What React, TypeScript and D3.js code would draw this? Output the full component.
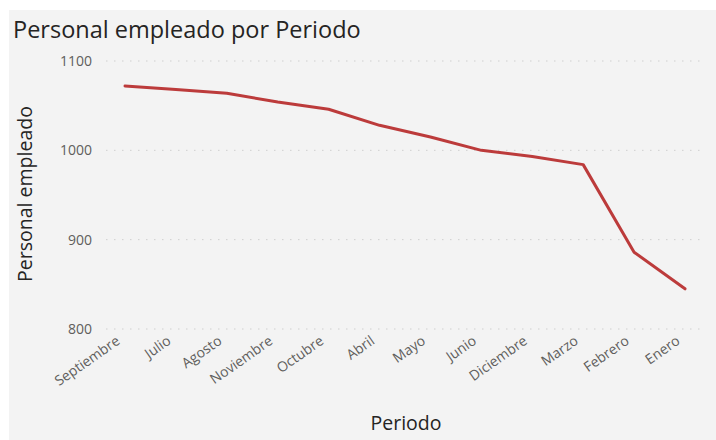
import React, { useEffect, useRef } from "react";
import * as d3 from "d3";

// months in the order shown on the x axis
const periodos = [
  "Septiembre", "Julio", "Agosto", "Noviembre", "Octubre", "Abril",
  "Mayo", "Junio", "Diciembre", "Marzo", "Febrero", "Enero",
];
const personal = [1072, 1068, 1064, 1054, 1046, 1028, 1015, 1000, 993, 984, 886, 845];
const yTicks = [800, 900, 1000, 1100];

const W = 716;
const H = 440;
const FONT = "'Open Sans', 'DejaVu Sans', sans-serif";

export default function App() {
  const ref = useRef<SVGSVGElement>(null);

  useEffect(() => {
    const svg = d3.select(ref.current);
    svg.selectAll("*").remove();

    // grey panel
    svg.append("rect").attr("x", 9).attr("y", 10).attr("width", W - 9).attr("height", H - 10).attr("fill", "#f3f3f3");

    svg
      .append("text")
      .attr("x", 13)
      .attr("y", 38)
      .style("font-family", FONT)
      .style("font-size", "23.5px")
      .attr("fill", "#252423")
      .text("Personal empleado por Periodo");

    // plot area
    const left = 106, right = 705, top = 61, bottom = 329;

    const x = d3.scalePoint<string>().domain(periodos).range([125, 685]);
    const y = d3.scaleLinear().domain([800, 1100]).range([bottom, top]);

    // dotted gridlines
    svg
      .append("g")
      .selectAll("line")
      .data(yTicks)
      .enter()
      .append("line")
      .attr("x1", left)
      .attr("x2", right)
      .attr("y1", (d) => y(d))
      .attr("y2", (d) => y(d))
      .attr("stroke", "#cfcfcf")
      .attr("stroke-width", 1)
      .attr("stroke-dasharray", "1.5,6.5");

    // y tick labels
    svg
      .append("g")
      .selectAll("text")
      .data(yTicks)
      .enter()
      .append("text")
      .attr("x", 92)
      .attr("y", (d) => y(d))
      .attr("dy", "0.35em")
      .attr("text-anchor", "end")
      .style("font-family", FONT)
      .style("font-size", "14px")
      .attr("fill", "#605e5c")
      .text((d) => String(d));

    // x tick labels, rotated
    svg
      .append("g")
      .selectAll("text")
      .data(periodos)
      .enter()
      .append("text")
      .attr("transform", (d) => `translate(${(x(d) as number) - 4},${bottom + 14}) rotate(-35)`)
      .attr("text-anchor", "end")
      .style("font-family", FONT)
      .style("font-size", "14px")
      .attr("fill", "#605e5c")
      .text((d) => d);

    // axis titles
    svg
      .append("text")
      .attr("transform", `translate(32,194) rotate(-90)`)
      .attr("text-anchor", "middle")
      .style("font-family", FONT)
      .style("font-size", "19.5px")
      .attr("fill", "#252423")
      .text("Personal empleado");

    svg
      .append("text")
      .attr("x", 406)
      .attr("y", 430)
      .attr("text-anchor", "middle")
      .style("font-family", FONT)
      .style("font-size", "19.5px")
      .attr("fill", "#252423")
      .text("Periodo");

    // the line
    const line = d3
      .line<number>()
      .x((d, i) => x(periodos[i]) as number)
      .y((d) => y(d));

    svg
      .append("path")
      .datum(personal)
      .attr("d", line)
      .attr("fill", "none")
      .attr("stroke", "#bc3b3b")
      .attr("stroke-width", 3)
      .attr("stroke-linejoin", "round")
      .attr("stroke-linecap", "round");
  }, []);

  return (
    <svg
      ref={ref}
      width={W}
      height={H}
      style={{ position: "absolute", left: 0, top: 0, background: "#fff" }}
    />
  );
}
